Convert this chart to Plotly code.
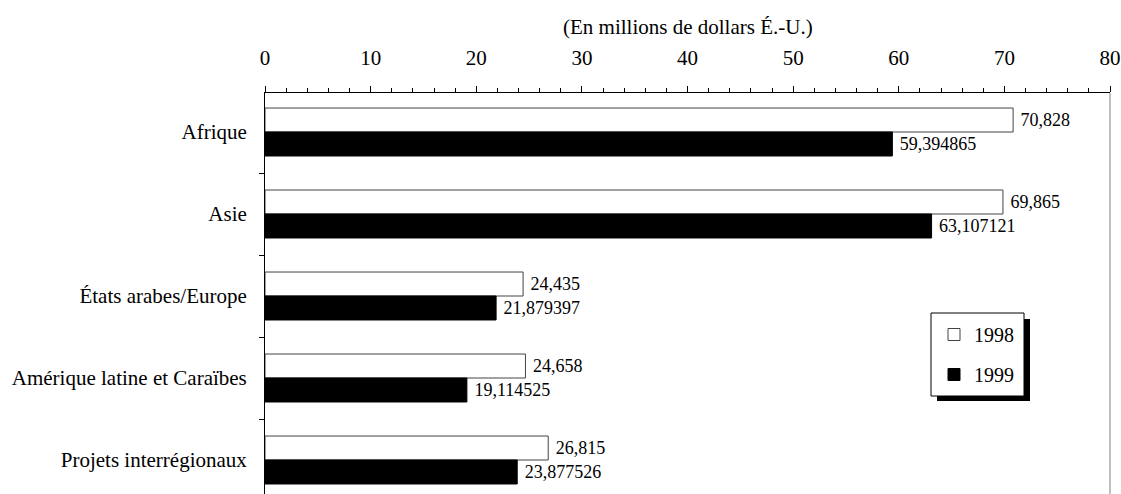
import plotly.graph_objects as go

categories = ["Afrique", "Asie", "États arabes/Europe", "Amérique latine et Caraïbes", "Projets interrégionaux"]
values_1998 = [70.828, 69.865, 24.435, 24.658, 26.815]
values_1999 = [59.394865, 63.107121, 21.879397, 19.114525, 23.877526]
labels_1998 = ["70,828", "69,865", "24,435", "24,658", "26,815"]
labels_1999 = ["59,394865", "63,107121", "21,879397", "19,114525", "23,877526"]
x_ticks = [0, 10, 20, 30, 40, 50, 60, 70, 80]

W, H = 1121, 494
L, R, T, B = 265, 1110, 93, 494
FONT = "Liberation Serif, Times New Roman, serif"
BAND = 82.0
Y0 = -0.5 + 2 / BAND


def px(xp):
    return (xp - L) / (R - L)


def py(yp):
    return (B - yp) / (B - T)


fig = go.Figure()
fig.add_trace(go.Bar(
    y=categories, x=values_1998, name="1998", orientation="h",
    marker=dict(color="white", line=dict(color="#444444", width=1)),
    text=labels_1998, texttemplate="\u00a0%{text}", textposition="outside",
    constraintext="none", hoverinfo="skip",
    textfont=dict(family=FONT, size=18, color="black"), cliponaxis=False,
    legendgroup="a",
))
fig.add_trace(go.Bar(
    y=categories, x=values_1999, name="1999", orientation="h",
    marker=dict(color="black", line=dict(color="black", width=1)),
    text=labels_1999, texttemplate="\u00a0%{text}", textposition="outside",
    constraintext="none", hoverinfo="skip",
    textfont=dict(family=FONT, size=18, color="black"), cliponaxis=False,
    legendgroup="b",
))

fig.update_layout(
    width=W, height=H,
    margin=dict(l=L, r=W - R, t=T, b=0, pad=0),
    paper_bgcolor="white", plot_bgcolor="white",
    font=dict(family=FONT, size=21, color="black"),
    barmode="group", bargap=0.415, bargroupgap=0,
    showlegend=True,
    legend=dict(x=px(934), y=py(315), xanchor="left", yanchor="top",
                bgcolor="rgba(0,0,0,0)", borderwidth=0,
                font=dict(family=FONT, size=20, color="black"),
                tracegroupgap=11, traceorder="grouped",
                itemclick=False, itemwidth=30),
    shapes=[
        dict(type="rect", xref="paper", yref="paper",
             x0=px(937), x1=px(1030), y0=py(401), y1=py(319),
             fillcolor="black", line=dict(width=0), layer="above"),
        dict(type="rect", xref="paper", yref="paper",
             x0=px(931), x1=px(1024), y0=py(396), y1=py(313),
             fillcolor="white", line=dict(color="black", width=1), layer="above"),
        dict(type="line", xref="paper", yref="paper",
             x0=1, x1=1, y0=0, y1=1, line=dict(color="#808080", width=1)),
    ],
    annotations=[
        dict(text="(En millions de dollars É.-U.)", xref="paper", yref="paper",
             x=0.5, y=py(27), xanchor="center", yanchor="middle", showarrow=False,
             font=dict(family=FONT, size=21, color="black")),
    ],
)

fig.update_xaxes(
    side="top", range=[0, 80], tickvals=x_ticks, ticks="outside", ticklen=6,
    tickcolor="black", showline=True, linecolor="black", linewidth=1,
    showgrid=False, zeroline=False, ticklabelstandoff=13,
    minor=dict(dtick=2, ticks="outside", ticklen=4, tickcolor="black", showgrid=False),
    tickfont=dict(family=FONT, size=21, color="black"),
)
fig.update_yaxes(
    type="category", range=[Y0 + (B - T) / BAND, Y0],
    ticks="outside", tickson="boundaries", ticklen=5, tickcolor="black",
    showline=True, linecolor="black", linewidth=1, showgrid=False,
    ticklabelstandoff=13,
    tickfont=dict(family=FONT, size=21, color="black"),
)

fig.write_html(
    "out.html",
    config={"displayModeBar": False},
    post_script="document.body.style.margin='0';document.body.style.overflow='hidden';",
)
